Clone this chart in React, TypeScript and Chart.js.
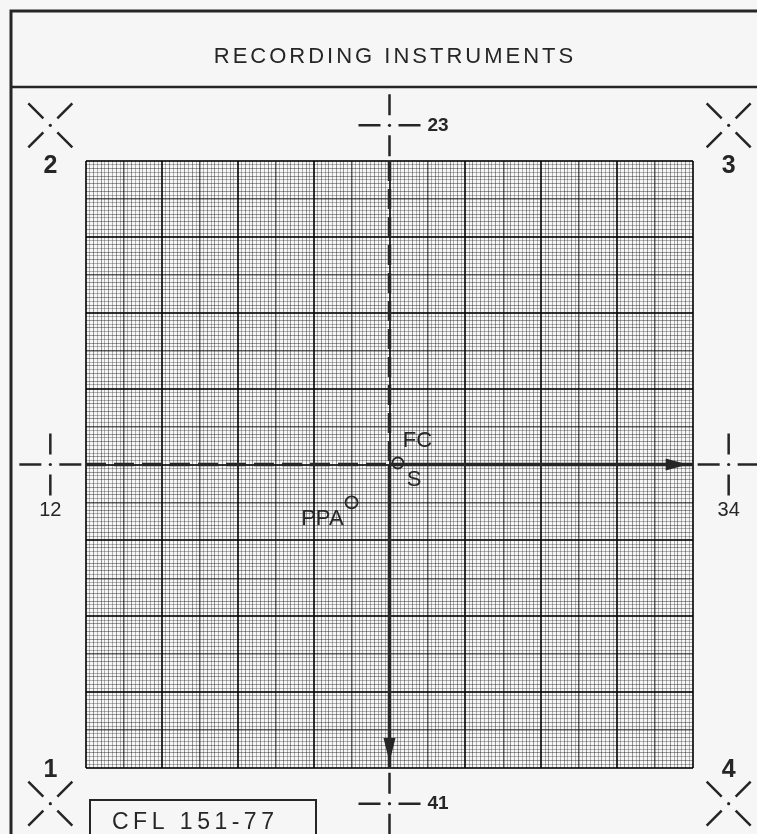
import { useEffect, useRef } from "react";
import { Chart, registerables } from "chart.js";

Chart.register(...registerables);

// ---- data ----
const AXIS_MIN = -4;
const AXIS_MAX = 4;
const GRID_STEP = 0.05;
const TITLE = "RECORDING INSTRUMENTS";
const DRAWING_NO = "CFL 151-77";

// reference axes (dashed half, solid half)
const AXIS_H_DASHED = [{ x: -4, y: 0 }, { x: 0, y: 0 }];
const AXIS_H_SOLID = [{ x: 0, y: 0 }, { x: 4, y: 0 }];
const AXIS_V_DASHED = [{ x: 0, y: 4 }, { x: 0, y: 0 }];
const AXIS_V_SOLID = [{ x: 0, y: 0 }, { x: 0, y: -4 }];

// arrow tips
const ARROW_X = [3.93, 0];
const ARROW_Y = [0, -3.92];
const ARROW_DIR = ["right", "down"];

// marked points
const POINT_X = [0.11, -0.5];
const POINT_Y = [0.02, -0.5];
const POINT_SIZE = [5.5, 6];

// point labels
const LABEL_TEXT = ["FC", "S", "PPA"];
const LABEL_X = [0.11, 0.11, -0.5];
const LABEL_Y = [0.02, 0.02, -0.5];

// registration marks
const REG = 4.47;
const CROSS_X = [0, 0, -REG, REG];
const CROSS_Y = [REG, -REG, 0, 0];
const CROSS_TEXT = ["23", "41", "12", "34"];
const CORNER_X = [-REG, REG, -REG, REG];
const CORNER_Y = [REG, REG, -REG, -REG];
const CORNER_TEXT = ["2", "3", "1", "4"];

// ---- styles ----
const INK = "#262626";
const PAPER = "#f6f6f6";
const FONT = '"Liberation Sans", Arial, sans-serif';
const LABEL_OFFSETS = [
  { dx: 5, dy: -22, align: "left" },
  { dx: 9, dy: 17, align: "left" },
  { dx: -8, dy: 16, align: "right" },
];
const CROSS_LABEL_OFFSETS = [
  { dx: 38, dy: 0, align: "left", font: `bold 19px ${FONT}` },
  { dx: 38, dy: 0, align: "left", font: `bold 19px ${FONT}` },
  { dx: 0, dy: 46, align: "center", font: `20px ${FONT}` },
  { dx: 0, dy: 46, align: "center", font: `20px ${FONT}` },
];
const CORNER_LABEL_DY = [41, 41, -34, -34];

function gridColor(v: number) {
  const k = Math.round(v / GRID_STEP);
  if (k % 20 === 0) return "rgba(0,0,0,0.8)";
  if (k % 10 === 0) return "rgba(0,0,0,0.62)";
  if (k % 2 === 0) return "rgba(0,0,0,0.38)";
  return "rgba(0,0,0,0.28)";
}
function gridWidth(v: number) {
  const k = Math.round(v / GRID_STEP);
  if (k % 20 === 0) return 2;
  if (k % 10 === 0) return 1.5;
  return 1;
}

const drawingPlugin = {
  id: "drawing",
  beforeDraw(chart: any) {
    const { ctx, width, height } = chart;
    ctx.save();
    ctx.fillStyle = PAPER;
    ctx.fillRect(0, 0, width, height);
    ctx.restore();
  },
  afterDatasetsDraw(chart: any) {
    const { ctx } = chart;
    const xs = chart.scales.x;
    const ys = chart.scales.y;
    const px = (v: number) => xs.getPixelForValue(v);
    const py = (v: number) => ys.getPixelForValue(v);
    ctx.save();
    ctx.strokeStyle = INK;
    ctx.fillStyle = INK;
    ctx.lineCap = "butt";

    // frame
    ctx.lineWidth = 3;
    ctx.beginPath();
    ctx.moveTo(11, 840);
    ctx.lineTo(11, 11);
    ctx.lineTo(770, 11);
    ctx.stroke();
    ctx.lineWidth = 2.5;
    ctx.beginPath();
    ctx.moveTo(11, 87);
    ctx.lineTo(770, 87);
    ctx.stroke();

    // title
    ctx.font = `22px ${FONT}`;
    (ctx as any).letterSpacing = "3px";
    ctx.textAlign = "center";
    ctx.textBaseline = "middle";
    ctx.fillText(TITLE, 395, 57);

    // drawing number box
    ctx.lineWidth = 2;
    ctx.strokeRect(90, 800, 226, 60);
    ctx.font = `23px ${FONT}`;
    (ctx as any).letterSpacing = "4.5px";
    ctx.textAlign = "left";
    ctx.fillText(DRAWING_NO, 112, 823);
    (ctx as any).letterSpacing = "0px";

    // arrowheads
    ARROW_X.forEach((ax, i) => {
      const tx = px(ax);
      const ty = py(ARROW_Y[i]);
      ctx.beginPath();
      if (ARROW_DIR[i] === "right") {
        ctx.moveTo(tx, ty);
        ctx.lineTo(tx - 22, ty - 6);
        ctx.lineTo(tx - 22, ty + 6);
      } else {
        ctx.moveTo(tx, ty);
        ctx.lineTo(tx - 6, ty - 24);
        ctx.lineTo(tx + 6, ty - 24);
      }
      ctx.closePath();
      ctx.fill();
    });

    // point labels
    ctx.font = `22px ${FONT}`;
    ctx.textBaseline = "middle";
    LABEL_TEXT.forEach((t, i) => {
      const o = LABEL_OFFSETS[i];
      ctx.textAlign = o.align;
      ctx.fillText(t, px(LABEL_X[i]) + o.dx, py(LABEL_Y[i]) + o.dy);
    });

    // crosshair registration marks
    CROSS_X.forEach((cxv, i) => {
      const cx = px(cxv);
      const cy = py(CROSS_Y[i]);
      ctx.lineWidth = 2.5;
      ctx.beginPath();
      ctx.moveTo(cx - 31, cy);
      ctx.lineTo(cx - 9, cy);
      ctx.moveTo(cx + 9, cy);
      ctx.lineTo(cx + 31, cy);
      ctx.moveTo(cx, cy - 31);
      ctx.lineTo(cx, cy - 10);
      ctx.moveTo(cx, cy + 10);
      ctx.lineTo(cx, cy + 31);
      ctx.stroke();
      ctx.beginPath();
      ctx.arc(cx, cy, 1.6, 0, Math.PI * 2);
      ctx.fill();
      const o = CROSS_LABEL_OFFSETS[i];
      ctx.font = o.font;
      ctx.textAlign = o.align;
      ctx.fillText(CROSS_TEXT[i], cx + o.dx, cy + o.dy);
    });

    // corner X marks
    CORNER_X.forEach((cxv, i) => {
      const cx = px(cxv);
      const cy = py(CORNER_Y[i]);
      ctx.lineWidth = 2.5;
      ctx.beginPath();
      for (const [sx, sy] of [[-1, -1], [1, -1], [-1, 1], [1, 1]]) {
        ctx.moveTo(cx + sx * 7, cy + sy * 7);
        ctx.lineTo(cx + sx * 22, cy + sy * 22);
      }
      ctx.stroke();
      ctx.beginPath();
      ctx.arc(cx, cy, 1.6, 0, Math.PI * 2);
      ctx.fill();
      ctx.font = `bold 25px ${FONT}`;
      ctx.textAlign = "center";
      ctx.fillText(CORNER_TEXT[i], cx, cy + CORNER_LABEL_DY[i]);
    });

    ctx.restore();
  },
};

export default function App() {
  const ref = useRef<HTMLCanvasElement | null>(null);
  useEffect(() => {
    if (!ref.current) return;
    const axisLine = (data: any[], dashed: boolean) => ({
      type: "scatter" as const,
      data,
      showLine: true,
      borderColor: INK,
      borderWidth: 3.5,
      borderDash: dashed ? [20, 8] : [],
      pointRadius: 0,
      fill: false,
    });
    const chart = new Chart(ref.current, {
      type: "scatter",
      data: {
        datasets: [
          axisLine(AXIS_H_DASHED, true),
          axisLine(AXIS_H_SOLID, false),
          axisLine(AXIS_V_DASHED, true),
          axisLine(AXIS_V_SOLID, false),
          {
            type: "scatter",
            data: POINT_X.map((x, i) => ({ x, y: POINT_Y[i] })),
            pointRadius: POINT_SIZE,
            pointStyle: "circle",
            borderColor: INK,
            borderWidth: 1.8,
            backgroundColor: "rgba(0,0,0,0)",
          },
        ] as any,
      },
      options: {
        responsive: true,
        maintainAspectRatio: false,
        animation: false,
        layout: { padding: { left: 86, top: 161, right: 64, bottom: 66 } },
        plugins: { legend: { display: false }, tooltip: { enabled: false }, title: { display: false } },
        scales: {
          x: {
            type: "linear",
            min: AXIS_MIN,
            max: AXIS_MAX,
            ticks: { display: false, stepSize: GRID_STEP },
            grid: {
              drawTicks: false,
              color: (c: any) => gridColor(c.tick ? c.tick.value : 0),
              lineWidth: (c: any) => gridWidth(c.tick ? c.tick.value : 0),
            },
            border: { display: false },
          },
          y: {
            type: "linear",
            min: AXIS_MIN,
            max: AXIS_MAX,
            ticks: { display: false, stepSize: GRID_STEP },
            grid: {
              drawTicks: false,
              color: (c: any) => gridColor(c.tick ? c.tick.value : 0),
              lineWidth: (c: any) => gridWidth(c.tick ? c.tick.value : 0),
            },
            border: { display: false },
          },
        },
      },
      plugins: [drawingPlugin],
    });
    return () => chart.destroy();
  }, []);
  return (
    <div style={{ position: "absolute", left: 0, top: 0, width: 757, height: 834 }}>
      <canvas ref={ref} />
    </div>
  );
}
